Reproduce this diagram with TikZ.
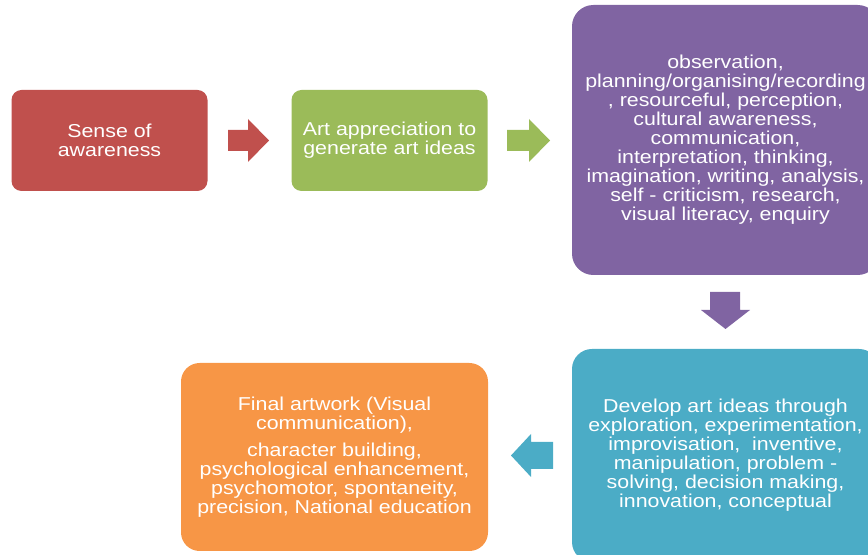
\documentclass[tikz,border=0pt]{standalone}
\usepackage{fontspec}
\setmainfont[FakeStretch=1.145]{Liberation Sans}
\definecolor{redc}{HTML}{C0504D}
\definecolor{greenc}{HTML}{9BBB59}
\definecolor{purplec}{HTML}{8064A2}
\definecolor{tealc}{HTML}{4BACC6}
\definecolor{orangec}{HTML}{F79646}
\newcommand\myboxfont{\fontsize{14}{14.25}\selectfont\lineskiplimit -20pt\relax\lineskip 0pt\relax}
\tikzset{
  box/.style={draw=none, text=white, align=center, inner sep=0pt,
    font=\myboxfont},
}
\begin{document}
\begin{tikzpicture}[x=0.75pt, y=-0.75pt]
\useasboundingbox (0,0) rectangle (868,555);
\clip (0,0) rectangle (868,555);
% boxes
\node[box, fill=redc, rounded corners=7.5pt, minimum width=147pt, minimum height=75.75pt]
  (aware) at (109.5,140.5) {Sense of\\awareness};
\node[box, fill=greenc, rounded corners=7.5pt, minimum width=147pt, minimum height=75.75pt]
  (apprec) at (389.5,140.5) {Art appreciation to\\generate art ideas};
\node[box, fill=purplec, rounded corners=16pt, minimum width=230.25pt, minimum height=202.5pt]
  (skills) at (725.5,140) {observation,\\planning/organising/recording\\, resourceful, perception,\\cultural awareness,\\communication,\\interpretation, thinking,\\imagination, writing, analysis,\\self - criticism, research,\\visual literacy, enquiry};
\node[box, fill=tealc, rounded corners=15pt, minimum width=230.25pt, minimum height=159.75pt]
  (develop) at (725.5,455.5) {Develop art ideas through\\exploration, experimentation,\\improvisation,\ \ inventive,\\manipulation, problem -\\solving, decision making,\\innovation, conceptual};
\node[box, fill=orangec, rounded corners=14pt, minimum width=230.25pt, minimum height=141pt]
  (final) at (334.5,457) {Final artwork (Visual\\communication),\\[6pt]character building,\\psychological enhancement,\\psychomotor, spontaneity,\\precision, National education};
% block arrows
\fill[redc] (228,130) -- (248,130) -- (248,119) -- (269,140.5) -- (248,162) -- (248,151) -- (228,151) -- cycle;
\fill[greenc] (507,130) -- (529,130) -- (529,119) -- (550,140.5) -- (529,162) -- (529,151) -- (507,151) -- cycle;
\fill[purplec] (710,292) -- (740,292) -- (740,310) -- (750,310) -- (725.5,329) -- (701,310) -- (710,310) -- cycle;
\fill[tealc] (553,442) -- (531,442) -- (531,434) -- (511,455.5) -- (531,477) -- (531,469) -- (553,469) -- cycle;
\end{tikzpicture}
\end{document}
